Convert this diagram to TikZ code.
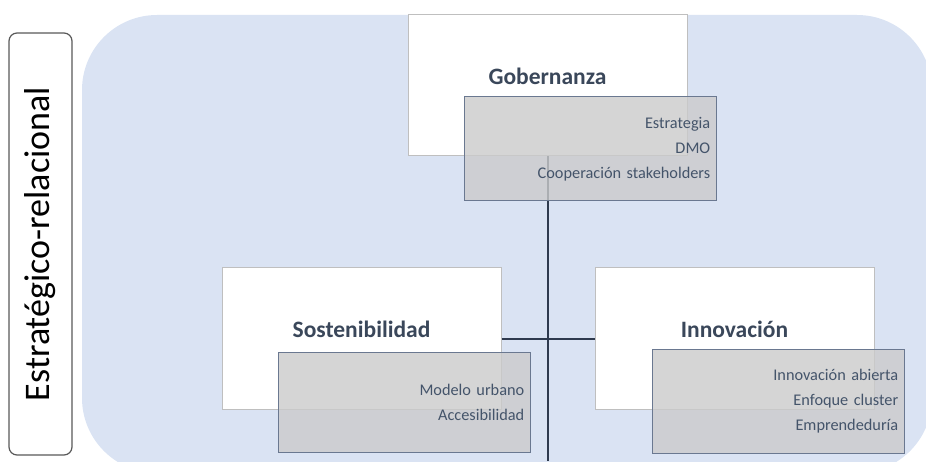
\documentclass[tikz,border=0pt]{standalone}
\usepackage{fontspec}
\setmainfont{Carlito}
\usetikzlibrary{positioning}
\definecolor{bgblue}{HTML}{DAE3F3}
\definecolor{slate}{HTML}{44546A}
\definecolor{boxline}{HTML}{BFBFBF}
\definecolor{detailfill}{HTML}{CBCBCB}
\definecolor{detailline}{HTML}{6A7890}
\definecolor{linkline}{HTML}{2E3A4E}

\begin{document}
\begin{tikzpicture}[
    x=1pt,
    y=1pt,
    block/.style = {
      draw = boxline,
      fill = white,
      line width = 1pt,
      minimum width = 279pt,
      minimum height = 141pt,
      inner sep = 0pt
    },
    title/.style = {
      font = \fontsize{23.5}{27}\selectfont\bfseries,
      text = slate!85!black
    },
    detail/.style = {
      draw = detailline,
      line width = 1.5pt,
      fill = detailfill,
      fill opacity = 0.8,
      text opacity = 1,
      text = slate,
      text width = 240pt,
      align = right,
      minimum height = 104pt,
      inner xsep = 6pt,
      inner ysep = 0pt,
      font = \fontsize{16.3}{25}\selectfont
    },
    link/.style = {
      draw = linkline,
      line width = 2pt
    },
    sidebox/.style = {
      draw = black!65,
      fill = white,
      line width = 1.2pt,
      rounded corners = 8pt,
      minimum width = 422pt,
      minimum height = 63pt,
      font = \fontsize{36}{40}\selectfont
    }
  ]
  \useasboundingbox (0,0) rectangle (926,461);
  \begin{scope}
    \clip (0,0) rectangle (926,461);
    \fill[bgblue, rounded corners=75pt] (82,-12) rectangle (932,446);
  \end{scope}
  \coordinate (floor) at (0,0);

  % level label
  \node[sidebox, rotate=90] (level) at (40.5,217) {Estratégico-relacional};

  % main blocks
  \node[block, label = {[title, yshift=9pt]center:Gobernanza}] (gob) at (547.5,376) {};
  \node[block, label = {[title, yshift=9pt]center:Sostenibilidad}] (sost) at (361.5,122.5) {};
  \node[block, label = {[title, yshift=9pt]center:Innovación}] (innov) at (734.5,122.5) {};

  % connectors
  \draw[link] (gob.south) -- (gob.south |- floor);
  \draw[link] (sost.east) -- (innov.west);

  % details
  \node[detail, below right = 82pt and 56pt of gob.north west] (gobdet)
    {Estrategia\\DMO\\Cooperación stakeholders};
  \node[detail, below right = 84pt and 56pt of sost.north west, minimum height=100pt] (sostdet)
    {Modelo urbano\\Accesibilidad};
  \node[detail, below right = 81pt and 57pt of innov.north west] (innovdet)
    {Innovación abierta\\Enfoque cluster\\Emprendeduría};
\end{tikzpicture}
\end{document}
